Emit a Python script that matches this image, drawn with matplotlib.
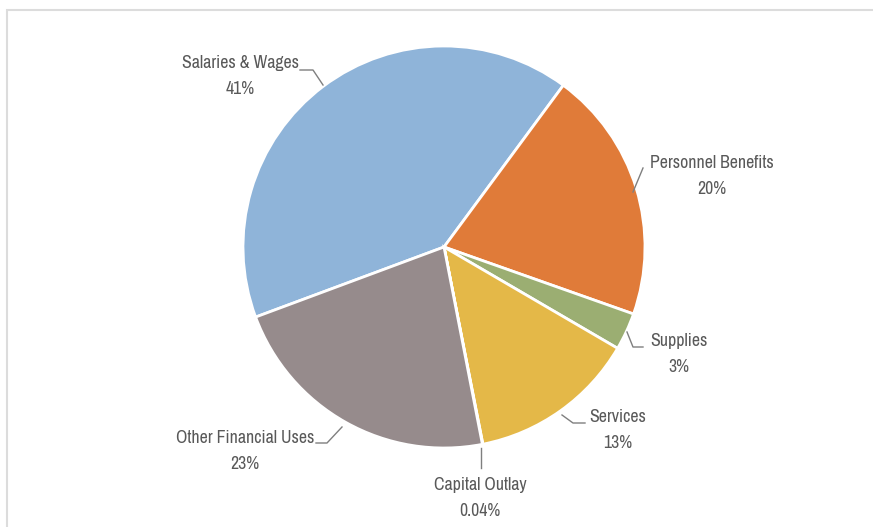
import matplotlib.pyplot as plt
from matplotlib import font_manager
from matplotlib.patches import Rectangle

# budget shares (%), labels as printed
labels = ["Salaries & Wages", "Personnel Benefits", "Supplies", "Services",
          "Capital Outlay", "Other Financial Uses"]
shares = [40.8, 20.3, 3.0, 13.5, 0.04, 22.4]
pct_text = ["41%", "20%", "3%", "13%", "0.04%", "23%"]
colors = ["#8fb4d9", "#e07b39", "#9bae72", "#e4b848", "#8fb4d9", "#968b8c"]

# pick a narrow font if one is installed (chart uses a condensed face)
names = sorted({f.name for f in font_manager.fontManager.ttflist})
narrow = [n for n in names if 'Narrow' in n or 'Condensed' in n]
font = narrow[0] if narrow else 'Roboto'

W, H = 873, 527
fig = plt.figure(figsize=(W / 100, H / 100), dpi=100)
ax = fig.add_axes([0, 0, 1, 1])

# light frame around the chart
ax.add_patch(Rectangle((7, -10), W, H, fill=False, ec='#dcdcdc', lw=1.5))

cx, cy, r = 444, H - 247, 201
ax.pie(shares, colors=colors, startangle=200.4, counterclock=False,
       center=(cx, cy), radius=r, frame=True,
       wedgeprops=dict(edgecolor='white', linewidth=2))
ax.set_xlim(0, W)
ax.set_ylim(0, H)
ax.axis('off')

txt = dict(color='#595959', fontsize=12.8, ha='center', va='baseline',
           family=[font, 'DejaVu Sans'])
line = dict(color='#7f7f7f', lw=1)

# label positions in pixel coords (x center, baseline from top) and leader lines
label_pos = [(240, 68), (712, 168), (679, 346), (618, 422), (480, 490), (245, 443)]
leaders = [
    [(300, 70), (313, 70), (323, 85)],
    [(643, 168), (633, 192)],
    [(627, 332), (633, 347), (643, 347)],
    [(562, 415), (573, 423), (585, 423)],
    [(481, 448), (481, 468)],
    [(316, 443), (327, 443), (342, 427)],
]

for lab, pct, (px, py), pts in zip(labels, pct_text, label_pos, leaders):
    ax.text(px, H - py, lab, **txt)
    ax.text(px, H - py - 26, pct, **txt)
    xs = [p[0] for p in pts]
    ys = [H - p[1] for p in pts]
    ax.plot(xs, ys, **line)

fig.savefig("out.png", dpi=100)
